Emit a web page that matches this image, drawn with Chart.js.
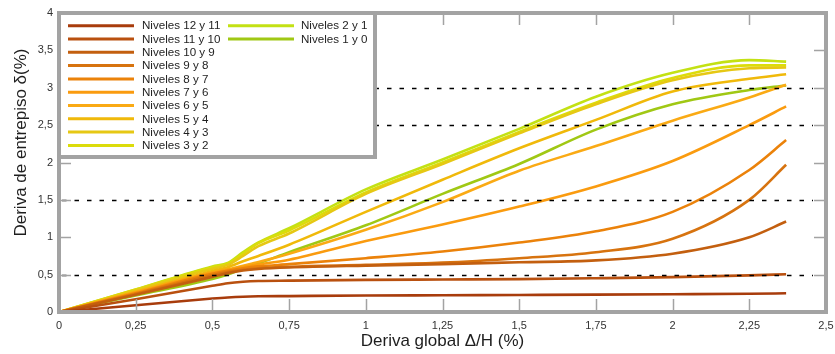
<!DOCTYPE html>
<html>
<head>
<meta charset="utf-8">
<script src="https://cdn.jsdelivr.net/npm/chart.js@4.4.1/dist/chart.umd.min.js"></script>
<style>
  html, body { margin: 0; padding: 0; background: #fff; }
  #wrap { width: 835px; height: 354px; position: relative; }
</style>
</head>
<body>
<div id="wrap"><canvas id="drift-chart"></canvas></div>
<script>
// --- datos ---
const globalDrift = [0, 0.25, 0.5, 0.55, 0.6, 0.65, 0.75, 1.0, 1.25, 1.5, 1.75, 2.0, 2.25, 2.37];

const levelNames = [
    'Niveles 12 y 11', 'Niveles 11 y 10', 'Niveles 10 y 9', 'Niveles 9 y 8',
    'Niveles 8 y 7', 'Niveles 7 y 6', 'Niveles 6 y 5', 'Niveles 5 y 4',
    'Niveles 4 y 3', 'Niveles 3 y 2', 'Niveles 2 y 1', 'Niveles 1 y 0'
];
const levelColors = [
    '#a83c0c', '#b9500f', '#c35f0f', '#d7730f',
    '#eb820a', '#fa9b0f', '#faaa14', '#f0b90a',
    '#e6c814', '#dcdc0a', '#c3e114', '#a0c814'
];

const drift12_11 = [0, 0.09, 0.18, 0.195, 0.205, 0.21, 0.213, 0.22, 0.224, 0.228, 0.232, 0.238, 0.245, 0.25];
const drift11_10 = [0, 0.17, 0.35, 0.385, 0.405, 0.415, 0.42, 0.43, 0.435, 0.44, 0.452, 0.467, 0.49, 0.505];
const drift10_9  = [0, 0.23, 0.47, 0.52, 0.555, 0.575, 0.595, 0.62, 0.64, 0.665, 0.69, 0.78, 1.0, 1.21];
const drift9_8   = [0, 0.24, 0.49, 0.535, 0.565, 0.585, 0.605, 0.63, 0.66, 0.72, 0.8, 0.98, 1.5, 1.97];
const drift8_7   = [0, 0.25, 0.51, 0.55, 0.585, 0.61, 0.64, 0.72, 0.81, 0.93, 1.08, 1.34, 1.9, 2.3];
const drift7_6   = [0, 0.26, 0.52, 0.56, 0.6, 0.635, 0.7, 0.95, 1.17, 1.41, 1.68, 2.02, 2.5, 2.75];
const drift6_5   = [0, 0.265, 0.53, 0.57, 0.62, 0.67, 0.78, 1.1, 1.47, 1.89, 2.22, 2.56, 2.87, 3.04];
const drift5_4   = [0, 0.27, 0.55, 0.6, 0.68, 0.75, 0.9, 1.34, 1.77, 2.19, 2.57, 2.95, 3.12, 3.18];
const drift4_3   = [0, 0.29, 0.58, 0.63, 0.75, 0.88, 1.05, 1.58, 1.98, 2.39, 2.78, 3.1, 3.26, 3.27];
const drift3_2   = [0, 0.3, 0.6, 0.645, 0.78, 0.92, 1.09, 1.6, 2.0, 2.41, 2.8, 3.13, 3.3, 3.3];
const drift2_1   = [0, 0.3, 0.61, 0.655, 0.8, 0.93, 1.12, 1.64, 2.04, 2.45, 2.88, 3.2, 3.37, 3.35];
const drift1_0   = [0, 0.22, 0.44, 0.5, 0.58, 0.65, 0.8, 1.16, 1.58, 1.98, 2.44, 2.78, 2.97, 3.03];

const seriesValues = [drift12_11, drift11_10, drift10_9, drift9_8, drift8_7, drift7_6,
                      drift6_5, drift5_4, drift4_3, drift3_2, drift2_1, drift1_0];

const dashedLevels = [0.5, 1.5, 2.5, 3];

const FONT = '"Liberation Sans", Arial, sans-serif';
const frameGray = '#a3a3a3';
const fmt = v => String(v).replace('.', ',');

// --- marco, rejilla y leyenda dibujados a mano ---
const framePlugin = {
    id: 'frame',
    afterDatasetsDraw(chart) {
        const { ctx, chartArea: a, scales: { x, y } } = chart;
        ctx.save();

        // líneas punteadas
        ctx.strokeStyle = '#000';
        ctx.lineWidth = 1.4;
        ctx.setLineDash([4.5, 8]);
        dashedLevels.forEach(v => {
            const py = Math.round(y.getPixelForValue(v)) + 0.5;
            ctx.beginPath();
            ctx.moveTo(a.left + 3, py);
            ctx.lineTo(a.right - 13, py);
            ctx.stroke();
        });
        ctx.setLineDash([]);

        // marcas interiores
        ctx.strokeStyle = frameGray;
        ctx.lineWidth = 1.5;
        y.ticks.forEach(t => {
            const py = Math.round(y.getPixelForValue(t.value)) + 0.5;
            ctx.beginPath();
            ctx.moveTo(a.left, py); ctx.lineTo(a.left + 12, py);
            ctx.moveTo(a.right, py); ctx.lineTo(a.right - 12, py);
            ctx.stroke();
        });
        x.ticks.forEach(t => {
            const px = Math.round(x.getPixelForValue(t.value)) + 0.5;
            ctx.beginPath();
            ctx.moveTo(px, a.bottom); ctx.lineTo(px, a.bottom - 13);
            ctx.moveTo(px, a.top); ctx.lineTo(px, a.top + 12);
            ctx.stroke();
        });

        // borde gris
        ctx.lineWidth = 4;
        ctx.strokeRect(a.left, a.top, a.right - a.left, a.bottom - a.top);

        // leyenda
        ctx.fillStyle = '#fff';
        ctx.fillRect(a.left, a.top, 316, 144);
        ctx.strokeRect(a.left, a.top, 316, 144);
        ctx.font = '11.6px ' + FONT;
        ctx.textBaseline = 'middle';
        chart.data.datasets.forEach((ds, i) => {
            const col = i < 10 ? 0 : 1;
            const row = i % 10;
            const lx = col ? 228 : 68;
            const ly = 25.7 + row * 13.3;
            ctx.strokeStyle = ds.borderColor;
            ctx.lineWidth = 3;
            ctx.beginPath();
            ctx.moveTo(lx, ly); ctx.lineTo(lx + 66, ly);
            ctx.stroke();
            ctx.fillStyle = '#1e1e1e';
            ctx.fillText(ds.label, col ? 301 : 142, ly + 0.5);
        });

        // título del eje Y
        ctx.translate(21, 142.5);
        ctx.rotate(-Math.PI / 2);
        ctx.font = '17px ' + FONT;
        ctx.fillStyle = '#1e1e1e';
        ctx.textAlign = 'center';
        ctx.fillText('Deriva de entrepiso δ(%)', 0, 0);
        ctx.restore();
    }
};

const datasets = seriesValues.map((vals, i) => ({
    label: levelNames[i],
    data: vals.map((v, k) => ({ x: globalDrift[k], y: v })),
    borderColor: levelColors[i],
    backgroundColor: levelColors[i],
    borderWidth: 2.6,
    pointRadius: 0,
    cubicInterpolationMode: 'monotone',
    fill: false
}));

new Chart(document.getElementById('drift-chart'), {
    type: 'line',
    data: { datasets },
    plugins: [framePlugin],
    options: {
        responsive: true,
        maintainAspectRatio: false,
        animation: false,
        layout: { padding: { top: 13, right: 9, left: 0, bottom: 0 } },
        plugins: { legend: { display: false }, tooltip: { enabled: false } },
        scales: {
            x: {
                type: 'linear',
                min: 0, max: 2.5,
                grid: { display: false, drawTicks: false },
                border: { display: false },
                ticks: { stepSize: 0.25, padding: 7, color: '#333', font: { size: 11, family: FONT }, callback: v => fmt(v), maxRotation: 0 },
                title: { display: true, text: 'Deriva global Δ/H (%)', color: '#1e1e1e', font: { size: 17, family: FONT }, padding: { top: 0, bottom: 2 } },
                afterFit: s => { s.height = 42; s.paddingLeft = 0; s.paddingRight = 0; }
            },
            y: {
                min: 0, max: 4,
                grid: { display: false, drawTicks: false },
                border: { display: false },
                ticks: { stepSize: 0.5, padding: 6, color: '#333', font: { size: 11, family: FONT }, callback: v => fmt(v) },
                afterFit: s => { s.width = 59; s.paddingTop = 0; s.paddingBottom = 0; }
            }
        }
    }
});
</script>
</body>
</html>
